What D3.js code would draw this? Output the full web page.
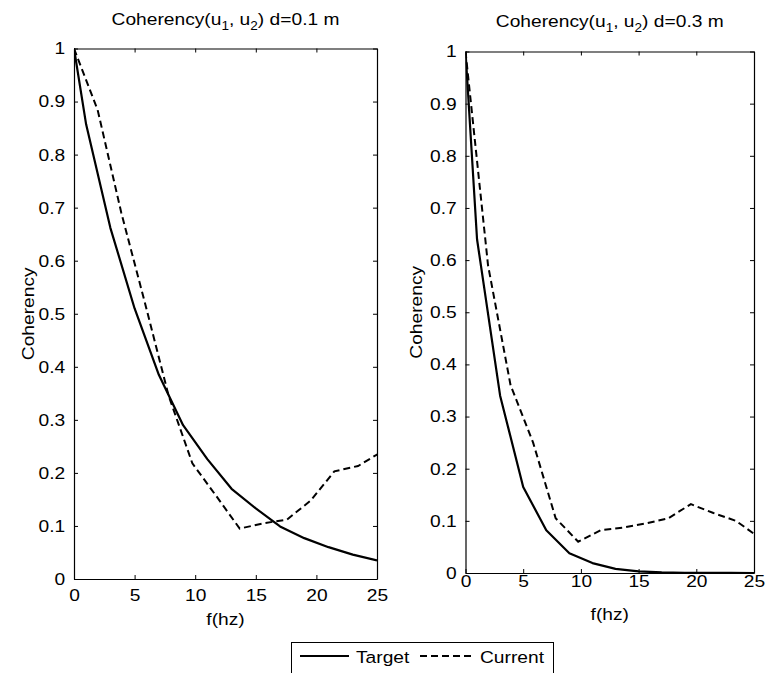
<!DOCTYPE html>
<html>
<head>
<meta charset="UTF-8">
<title>Coherency</title>
<style>
    body { margin: 0; background: #fff; }
    svg { display: block; }
    text { font-family: 'Liberation Sans', Arial, sans-serif; fill: #000; }
</style>
<script src="https://cdn.jsdelivr.net/npm/d3@7"></script>
</head>
<body>
<svg id="chart" width="766" height="673"></svg>
<script>
// frequencies (Hz)
const targetFreq = [0, 1, 3, 5, 7, 9, 11, 13, 15, 17, 19, 21, 23, 25];
const currentFreq = [0, 1.953, 3.906, 5.859, 7.813, 9.766, 11.719, 13.672, 15.625, 17.578, 19.531, 21.484, 23.438, 25.391];

// d = 0.1 m
const targetNear = [1, 0.857, 0.662, 0.51, 0.385, 0.29, 0.226, 0.17, 0.133, 0.099, 0.077, 0.06, 0.046, 0.035];
const currentNear = [1, 0.884, 0.69, 0.52, 0.345, 0.218, 0.157, 0.095, 0.105, 0.112, 0.148, 0.203, 0.213, 0.24];

// d = 0.3 m
const targetFar = [1, 0.64, 0.34, 0.165, 0.082, 0.038, 0.019, 0.008, 0.003, 0.0012, 0.0005, 0.0002, 0.0001, 0.00004];
const currentFar = [1, 0.59, 0.36, 0.25, 0.105, 0.06, 0.082, 0.087, 0.095, 0.105, 0.132, 0.115, 0.1, 0.069];

const xTicks = [0, 5, 10, 15, 20, 25];
const yTicks = [0, 0.1, 0.2, 0.3, 0.4, 0.5, 0.6, 0.7, 0.8, 0.9, 1];
const titles = ["0.1 m", "0.3 m"];

const svg = d3.select("#chart");
const FS = 17;
const SX = 1.13; // the original figure is a bit stretched horizontally

const panels = [
    { l: 74, r: 377, t: 48.5, b: 579, target: targetNear, current: currentNear, title: titles[0], titleY: 25, xlabY: 625, xtickY: 602, ylabX: 34 },
    { l: 465.5, r: 754, t: 51.5, b: 573, target: targetFar, current: currentFar, title: titles[1], titleY: 27, xlabY: 620, xtickY: 588, ylabX: 422 }
];

panels.forEach((p, i) => {
    const x = d3.scaleLinear().domain([0, 25]).range([p.l, p.r]);
    const y = d3.scaleLinear().domain([0, 1]).range([p.b, p.t]);
    const g = svg.append("g");

    const clipId = "clip" + i;
    svg.append("clipPath").attr("id", clipId)
        .append("rect").attr("x", p.l).attr("y", p.t - 2)
        .attr("width", p.r - p.l).attr("height", p.b - p.t + 4);

    // axes (ticks inward, mirrored on top and right)
    const bottom = g.append("g").attr("transform", `translate(0,${p.b})`)
        .call(d3.axisBottom(x).tickValues(xTicks).tickSize(-4).tickSizeOuter(0).tickPadding(p.xtickY - p.b - 13));
    const left = g.append("g").attr("transform", `translate(${p.l},0)`)
        .call(d3.axisLeft(y).tickValues(yTicks).tickSize(-4).tickSizeOuter(0).tickPadding(7).tickFormat(d3.format("~g")));
    g.append("g").attr("transform", `translate(0,${p.t})`)
        .call(d3.axisTop(x).tickValues(xTicks).tickSize(-4).tickSizeOuter(0).tickFormat(""));
    g.append("g").attr("transform", `translate(${p.r},0)`)
        .call(d3.axisRight(y).tickValues(yTicks).tickSize(-4).tickSizeOuter(0).tickFormat(""));

    g.selectAll(".domain").attr("stroke", "#000").attr("stroke-width", 1.2);
    g.selectAll(".tick line").attr("stroke", "#000");
    g.selectAll(".tick text").attr("font-size", FS).attr("fill", "#000")
        .attr("font-family", "'Liberation Sans', Arial, sans-serif");
    bottom.selectAll(".tick text").attr("transform", `scale(${SX},1)`);
    left.selectAll(".tick text").attr("transform", `translate(${-7 * (SX - 1)},0) scale(${SX},1)`);

    const line = d3.line().x(d => x(d[0])).y(d => y(d[1]));
    g.append("path")
        .datum(targetFreq.map((f, k) => [f, p.target[k]]))
        .attr("clip-path", `url(#${clipId})`)
        .attr("fill", "none").attr("stroke", "#000").attr("stroke-width", 2.2)
        .attr("stroke-linejoin", "round")
        .attr("d", line);
    g.append("path")
        .datum(currentFreq.map((f, k) => [f, p.current[k]]))
        .attr("clip-path", `url(#${clipId})`)
        .attr("fill", "none").attr("stroke", "#000").attr("stroke-width", 2)
        .attr("stroke-dasharray", "7,4")
        .attr("d", line);

    // title
    const cx = (p.l + p.r) / 2;
    const tt = g.append("text").attr("text-anchor", "middle").attr("font-size", FS)
        .attr("transform", `translate(${cx},${p.titleY}) scale(${SX},1)`);
    tt.append("tspan").text("Coherency(u");
    tt.append("tspan").attr("font-size", 12).attr("dy", 5).text("1");
    tt.append("tspan").attr("dy", -5).text(", u");
    tt.append("tspan").attr("font-size", 12).attr("dy", 5).text("2");
    tt.append("tspan").attr("dy", -5).text(") d=" + p.title);

    g.append("text").attr("text-anchor", "middle").attr("font-size", FS)
        .attr("transform", `translate(${cx},${p.xlabY}) scale(${SX},1)`)
        .text("f(hz)");
    g.append("text").attr("text-anchor", "middle").attr("font-size", FS)
        .attr("transform", `translate(${p.ylabX},${(p.t + p.b) / 2}) rotate(-90) scale(${SX},1)`)
        .text("Coherency");
});

// legend
const lg = svg.append("g");
lg.append("rect").attr("x", 291.5).attr("y", 642.5).attr("width", 262).attr("height", 45)
    .attr("fill", "#fff").attr("stroke", "#000");
lg.append("line").attr("x1", 300).attr("x2", 349).attr("y1", 656).attr("y2", 656)
    .attr("stroke", "#000").attr("stroke-width", 2.2);
lg.append("text").attr("font-size", FS).attr("transform", `translate(356,663) scale(${SX},1)`).text("Target");
lg.append("line").attr("x1", 420).attr("x2", 471).attr("y1", 656).attr("y2", 656)
    .attr("stroke", "#000").attr("stroke-width", 2).attr("stroke-dasharray", "7,4");
lg.append("text").attr("font-size", FS).attr("transform", `translate(480,663) scale(${SX},1)`).text("Current");
</script>
</body>
</html>
